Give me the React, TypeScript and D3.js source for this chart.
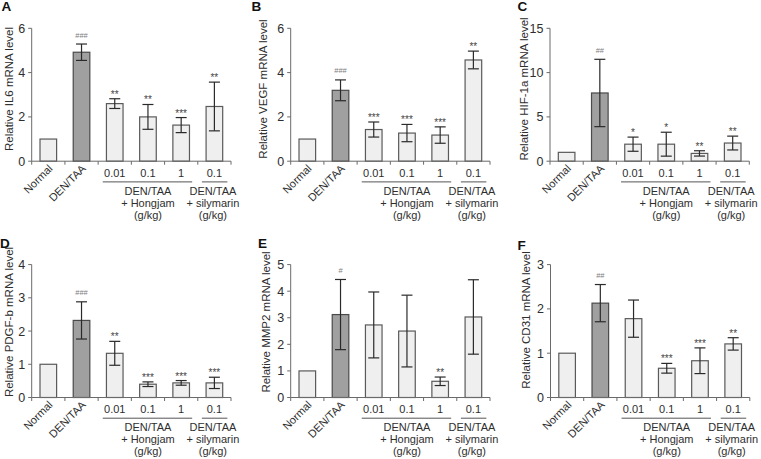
import React from "react";
import * as d3 from "d3";

const categories = ["Normal", "DEN/TAA", "0.01", "0.1", "1", "0.1"];
const panelLetters = ["A", "B", "C", "D", "E", "F"];
const yAxisLabels = [
  "Relative IL6 mRNA level",
  "Relative VEGF mRNA level",
  "Relative HIF-1a mRNA level",
  "Relative PDGF-b mRNA level",
  "Relative MMP2 mRNA level",
  "Relative CD31 mRNA level",
];
const yDomainMax = [6, 6, 15, 4, 5, 3];
const yTickValues = [
  [0, 2, 4, 6],
  [0, 2, 4, 6],
  [0, 5, 10, 15],
  [0, 1, 2, 3, 4],
  [0, 1, 2, 3, 4, 5],
  [0, 1, 2, 3],
];

const il6Means = [1, 4.92, 2.6, 2.0, 1.63, 2.47];
const il6Errors = [0, 0.37, 0.22, 0.56, 0.34, 1.1];
const il6Marks = ["", "###", "**", "**", "***", "**"];

const vegfMeans = [1, 3.2, 1.43, 1.27, 1.18, 4.57];
const vegfErrors = [0, 0.47, 0.34, 0.39, 0.37, 0.4];
const vegfMarks = ["", "###", "***", "***", "***", "**"];

const hifMeans = [1, 7.7, 1.92, 1.92, 0.88, 2.05];
const hifErrors = [0, 3.8, 0.8, 1.35, 0.3, 0.78];
const hifMarks = ["", "##", "*", "*", "**", "**"];

const pdgfMeans = [1, 2.32, 1.33, 0.4, 0.44, 0.44];
const pdgfErrors = [0, 0.56, 0.36, 0.07, 0.07, 0.17];
const pdgfMarks = ["", "###", "**", "***", "***", "***"];

const mmp2Means = [1, 3.12, 2.73, 2.5, 0.61, 3.03];
const mmp2Errors = [0, 1.32, 1.24, 1.35, 0.16, 1.4];
const mmp2Marks = ["", "#", "", "", "**", ""];

const cd31Means = [1, 2.13, 1.78, 0.66, 0.83, 1.21];
const cd31Errors = [0, 0.42, 0.42, 0.11, 0.29, 0.14];
const cd31Marks = ["", "##", "", "***", "***", "**"];

const allMeans = [il6Means, vegfMeans, hifMeans, pdgfMeans, mmp2Means, cd31Means];
const allErrors = [il6Errors, vegfErrors, hifErrors, pdgfErrors, mmp2Errors, cd31Errors];
const allMarks = [il6Marks, vegfMarks, hifMarks, pdgfMarks, mmp2Marks, cd31Marks];

const groupLabelLines = ["DEN/TAA", "+ Hongjam", "(g/kg)"];
const silyLabelLines = ["DEN/TAA", "+ silymarin", "(g/kg)"];

// layout
const layout = [
  { x0: 31.7, y0: 28.3, lx: 13.3, lcy: 89, letterX: 1.5, letterY: 10.5 },
  { x0: 290.7, y0: 28.3, lx: 266.5, lcy: 89, letterX: 251.5, letterY: 10.5 },
  { x0: 550, y0: 28.3, lx: 528.3, lcy: 89, letterX: 517.5, letterY: 10.5 },
  { x0: 31.7, y0: 264.6, lx: 13.3, lcy: 322, letterX: 0, letterY: 248 },
  { x0: 290.7, y0: 264.6, lx: 270, lcy: 322, letterX: 258, letterY: 248 },
  { x0: 550.5, y0: 264.6, lx: 530, lcy: 320, letterX: 517.5, letterY: 249.5 },
];
const W = 199.3;
const H = 132.9;
const FONT = "'Liberation Sans', Arial, Helvetica, sans-serif";
const AXIS = "#6a6a6a";
const TEXT = "#2e2e2e";

function Panel({ idx }: { idx: number }) {
  const L = layout[idx];
  const means = allMeans[idx];
  const errs = allErrors[idx];
  const marks = allMarks[idx];
  const x = d3
    .scaleBand<number>()
    .domain(d3.range(categories.length))
    .range([0, W])
    .paddingInner(0.5)
    .paddingOuter(0.25);
  const y = d3.scaleLinear().domain([0, yDomainMax[idx]]).range([H, 0]);
  const step = x.step();
  const bw = x.bandwidth();
  const cx = (i: number) => (x(i) as number) + bw / 2;
  return (
    <g>
      <text x={L.letterX} y={L.letterY} fontSize={13.5} fontWeight="bold" fill="#111" fontFamily={FONT}>
        {panelLetters[idx]}
      </text>
      <text
        transform={`translate(${L.lx},${L.lcy}) rotate(-90)`}
        textAnchor="middle"
        fontSize={11.5}
        fill={TEXT}
        fontFamily={FONT}
      >
        {yAxisLabels[idx]}
      </text>
      <g transform={`translate(${L.x0},${L.y0})`}>
        {/* bars */}
        {means.map((m, i) => (
          <rect
            key={"b" + i}
            x={x(i)}
            y={y(m)}
            width={bw}
            height={H - y(m)}
            fill={i === 1 ? "#a0a0a0" : "#efefef"}
            stroke={i === 1 ? "#4a4a4a" : "#5a5a5a"}
            strokeWidth={1.2}
          />
        ))}
        {/* error bars */}
        {means.map((m, i) =>
          errs[i] > 0 ? (
            <g key={"e" + i} stroke="#2a2a2a" strokeWidth={1.2}>
              <line x1={cx(i)} x2={cx(i)} y1={y(m - errs[i])} y2={y(m + errs[i])} />
              <line x1={cx(i) - 5.5} x2={cx(i) + 5.5} y1={y(m + errs[i])} y2={y(m + errs[i])} />
              <line x1={cx(i) - 5.5} x2={cx(i) + 5.5} y1={y(m - errs[i])} y2={y(m - errs[i])} />
            </g>
          ) : null
        )}
        {/* markers */}
        {marks.map((mk, i) =>
          mk ? (
            <text
              key={"m" + i}
              x={cx(i)}
              y={y(means[i] + errs[i]) - (mk[0] === "#" ? 6.5 : 1)}
              textAnchor="middle"
              fontSize={mk[0] === "#" ? 7.5 : 10}
              fill={mk[0] === "#" ? "#808080" : "#444"}
              fontFamily={FONT}
            >
              {mk}
            </text>
          ) : null
        )}
        {/* y axis */}
        <line x1={0} x2={0} y1={0} y2={H} stroke={AXIS} strokeWidth={1} />
        {yTickValues[idx].map((t) => (
          <g key={"yt" + t}>
            <line x1={-3.5} x2={0} y1={y(t)} y2={y(t)} stroke={AXIS} strokeWidth={1} />
            <text
              x={-6.5}
              y={y(t)}
              dy="0.36em"
              textAnchor="end"
              fontSize={12.5}
              fill={TEXT}
              fontFamily={FONT}
            >
              {t}
            </text>
          </g>
        ))}
        {/* x axis */}
        <line x1={0} x2={W} y1={H} y2={H} stroke={AXIS} strokeWidth={1} />
        {d3.range(categories.length + 1).map((k) => (
          <line key={"xt" + k} x1={k * step} x2={k * step} y1={H} y2={H + 3.5} stroke={AXIS} strokeWidth={1} />
        ))}
        {/* category labels */}
        {categories.map((c, i) =>
          i < 2 ? (
            <text
              key={"c" + i}
              transform={`translate(${cx(i) + 5},${H + 8})rotate(-45)`}
              textAnchor="end"
              fontSize={11}
              fill={TEXT}
              fontFamily={FONT}
            >
              {c}
            </text>
          ) : (
            <text key={"c" + i} x={cx(i)} y={H + 16} textAnchor="middle" fontSize={11} fill={TEXT} fontFamily={FONT}>
              {c}
            </text>
          )
        )}
        <line x1={cx(2) - 12} x2={cx(4) + 11} y1={H + 20.7} y2={H + 20.7} stroke="#555" strokeWidth={1} />
        <line x1={cx(5) - 12.5} x2={cx(5) + 13} y1={H + 20.7} y2={H + 20.7} stroke="#555" strokeWidth={1} />
        {groupLabelLines.map((t, k) => (
          <text key={"g" + k} x={cx(3)} y={H + 34 + k * 11.7} textAnchor="middle" fontSize={11} fill={TEXT} fontFamily={FONT}>
            {t}
          </text>
        ))}
        {silyLabelLines.map((t, k) => (
          <text key={"s" + k} x={cx(5) - 1.5} y={H + 34 + k * 11.7} textAnchor="middle" fontSize={11} fill={TEXT} fontFamily={FONT}>
            {t}
          </text>
        ))}
      </g>
    </g>
  );
}

export default function App() {
  return (
    <div style={{ position: "fixed", left: 0, top: 0, width: 761, height: 459, background: "#fff" }}>
      <svg width={761} height={459} style={{ display: "block", opacity: 0.999 }}>
        <rect width={761} height={459} fill="#fff" />
        {d3.range(6).map((i) => (
          <Panel key={i} idx={i} />
        ))}
      </svg>
    </div>
  );
}
